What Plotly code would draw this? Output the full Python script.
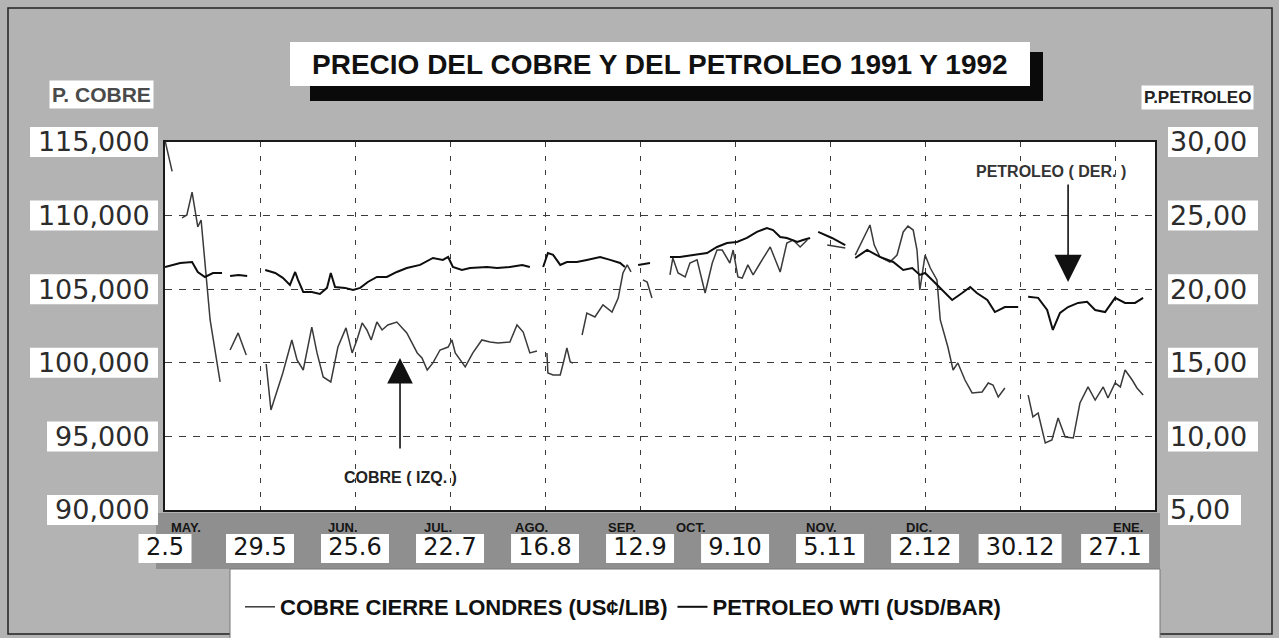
import plotly.graph_objects as go

# ---------------- DATA ----------------
# x axis: trading-day index counted from 2 May 1991 (one tick every 20 days)
dias_tick = [0, 20, 40, 60, 80, 100, 120, 140, 160, 180, 200]
fechas = ["2.5", "29.5", "25.6", "22.7", "16.8", "12.9", "9.10", "5.11", "2.12", "30.12", "27.1"]
meses = ["MAY.", "", "JUN.", "JUL.", "AGO.", "SEP.", "OCT.", "NOV.", "DIC.", "", "ENE."]

cobre_ticks = [90000, 95000, 100000, 105000, 110000, 115000]
cobre_ticktext = ["90,000", "95,000", "100,000", "105,000", "110,000", "115,000"]
petroleo_ticks = [5, 10, 15, 20, 25, 30]
petroleo_ticktext = ["5,00", "10,00", "15,00", "20,00", "25,00", "30,00"]

# Copper, London close (left axis); None = gap in the original series
cobre_dia = [
    0, 1.5, None,
    3.6, 4.6, 5.7, 6.3, 6.9, 7.6, 9.5, 11.6, None,
    13.7, 15.4, 17.1, None,
    21.3, 22.3, 24.8, 26.7, 27.8, 29.1, 30.9, 32.0, 33.3, 34.9, 36.4, 38.1, 39.4, 40.4, 41.5,
    42.5, 43.4, 44.6, 45.7, 46.9, 48.8, 50.9, 53.1, 54.1, 55.2, 56.4, 57.9, 59.6, 60.4, 61.1,
    63.2, 64.8, 66.7, 68.4, 70.1, 72.6, 74.1, 75.4, 76.8, 78.3, None,
    80.4, 80.6, 81.7, 83.2, 84.0, 84.6, 85.3, 85.9, None,
    87.8, 88.8, 90.5, 92.2, 94.1, 95.4, 96.4, 97.3, 98.1, None,
    100.6, 101.5, 102.5, None,
    106.3, 106.9, 108.0, 109.5, 110.5, 112.0, 113.7, 115.2, 116.2, 117.3, 118.9, 119.6, 120.6,
    121.5, 122.7, 123.8, 125.3, 127.4, 129.5, 130.9, 132.2, 133.7, 135.2, None,
    139.4, 143.2, None,
    145.3, 146.9, 148.4, 149.3, 150.5, 152.6, 154.1, 155.4, 156.4, 157.5, 158.3, 158.9, 160.0,
    161.1, 162.5, 163.2, 164.8, 165.9, 166.9, 168.4, 169.9, 172.0, 173.3, 174.3, 175.4, 176.8, None,
    181.7, 182.7, 183.8, 185.3, 186.7, 188.0, 189.5, 191.2, 192.6, 194.3, 195.8, 197.5, 198.5,
    200.0, 201.1, 202.1, 203.6, 204.6, 205.9,
]
cobre_valor = [
    115100, 113000, None,
    109840, 110040, 111600, 110250, 109230, 109700, 102910, 98700, None,
    100870, 102030, 100530, None,
    99920, 96800, 99310, 101550, 100190, 99510, 102430, 100670, 99040, 98700, 101070, 102370, 100670, 101550, 102710,
    102230, 101550, 102770, 102230, 102570, 102770, 102030, 100670, 100330, 99510, 99990, 100870, 101070, 101550, 100670,
    99720, 100670, 101550, 101410, 101350, 101410, 102570, 102090, 100670, 100800, None,
    100670, 99310, 99170, 99170, 100190, 101010, 100060, 99990, None,
    101890, 103380, 103110, 103930, 103450, 104400, 106100, 106650, 106170, None,
    105630, 105490, 104400, None,
    105970, 107120, 106100, 105830, 106780, 106990, 104740, 106780, 107660, 107660, 106780, 107660, 105830,
    105760, 106650, 105970, 106780, 107870, 106170, 108140, 108340, 107870, 108340, None,
    108000, 107800, None,
    107320, 108340, 109360, 108000, 107190, 106850, 107320, 108890, 109290, 109020, 107660, 104950, 107320,
    106440, 105630, 102910, 101070, 99510, 99990, 98830, 97950, 98020, 98630, 98490, 97680, 98290, None,
    97810, 96320, 96590, 94550, 94760, 96250, 94960, 94890, 97270, 98360, 97470, 98360, 97610,
    98630, 98360, 99510, 98830, 98290, 97810,
]

# WTI oil (right axis)
petroleo_dia = [
    0, 3.2, 5.7, 6.9, 8.4, 10.1, 12.0, None,
    13.7, 15.5, 17.3, None,
    21.1, 23.2, 24.8, 26.3, 27.4, 28.0, 29.1, 30.9, 32.6, 34.1, 34.9, 35.8, 37.9, 39.6, 41.1,
    42.7, 44.6, 46.7, 48.8, 50.9, 53.7, 56.4, 58.5, 59.6, 60.6, 62.5, 64.2, 66.3, 67.8, 69.9,
    72.6, 75.2, 76.8, None,
    79.6, 80.6, 81.7, 83.2, 84.6, 86.7, 88.8, 91.6, 93.7, 95.8, 96.8, None,
    99.6, 102.1, None,
    106.3, 108.4, 111.2, 114.1, 116.2, 118.3, 120.4, 122.5, 124.6, 126.7, 128.0, 129.5, 130.9,
    133.1, 134.3, 135.8, None,
    137.5, 140.4, 143.2, None,
    145.3, 147.8, 150.5, 153.3, 155.4, 157.3, 158.9, 160.0, 161.5, 163.6, 165.7, 167.8, 169.5,
    170.9, 173.1, 174.7, 176.8, 179.6, None,
    181.7, 183.8, 185.7, 186.9, 188.4, 190.1, 192.2, 194.1, 195.8, 197.9, 200.0, 202.1, 204.2, 205.9,
]
petroleo_valor = [
    21.50, 21.78, 21.85, 21.17, 20.83, 21.10, 21.10, None,
    20.90, 20.97, 20.90, None,
    21.31, 21.10, 20.77, 20.29, 21.17, 20.63, 19.81, 19.81, 19.68, 20.09, 21.10, 20.15, 20.09, 19.95, 20.09,
    20.49, 20.83, 20.83, 21.17, 21.44, 21.65, 22.12, 21.99, 22.19, 21.51, 21.31, 21.44, 21.51, 21.51, 21.44,
    21.51, 21.65, 21.51, None,
    21.51, 22.46, 22.33, 21.65, 21.85, 21.85, 21.99, 22.19, 21.99, 21.78, 21.51, None,
    21.65, 21.78, None,
    22.19, 22.19, 22.33, 22.46, 22.87, 23.14, 23.21, 23.48, 23.89, 24.16, 24.02, 23.55, 23.48,
    23.21, 23.34, 23.48, None,
    23.89, 23.48, 23.00, None,
    22.12, 22.67, 22.19, 21.85, 21.31, 21.44, 20.97, 21.10, 20.63, 19.95, 19.27, 19.74, 20.15,
    19.74, 19.27, 18.45, 18.79, 18.79, None,
    19.48, 19.41, 18.59, 17.23, 18.39, 18.79, 19.07, 19.14, 18.59, 18.45, 19.41, 19.07, 19.07, 19.41,
]

# ---------------- STYLE / LAYOUT HELPERS ----------------
W, H = 1279, 638
L, R, T, B = 165, 1155, 142, 510          # plot-area pixel box
X_MAX = 208.4
Y_MIN, Y_MAX = 90000, 115000
Y2_MIN, Y2_MAX = 5, 30


def px(X):
    return (X - L) / (R - L)


def py(Y):
    return (B - Y) / (B - T)


def fx(d):
    return d / X_MAX


def fy(v):
    return (v - Y_MIN) / (Y_MAX - Y_MIN)


def fy2(v):
    return (v - Y2_MIN) / (Y2_MAX - Y2_MIN)


fig = go.Figure()
fig.add_trace(go.Scatter(
    x=cobre_dia, y=cobre_valor, mode="lines", yaxis="y",
    name="COBRE CIERRE LONDRES (US¢/LIB)", connectgaps=False,
    line=dict(color="#3a3a3a", width=1.5),
))
fig.add_trace(go.Scatter(
    x=petroleo_dia, y=petroleo_valor, mode="lines", yaxis="y2",
    name="PETROLEO WTI (USD/BAR)", connectgaps=False,
    line=dict(color="#0e0e0e", width=2.0),
))

shapes = []
# outer frame
shapes.append(dict(type="rect", xref="paper", yref="paper", x0=px(8), x1=px(1272), y0=py(634), y1=py(8),
                   line=dict(color="#222", width=1.5), fillcolor="rgba(0,0,0,0)", layer="below"))
# title shadow and box
shapes.append(dict(type="rect", xref="paper", yref="paper", x0=px(310), x1=px(1043), y0=py(101), y1=py(52),
                   line=dict(width=0), fillcolor="#0a0a0a", layer="below"))
shapes.append(dict(type="rect", xref="paper", yref="paper", x0=px(290), x1=px(1030), y0=py(86), y1=py(42),
                   line=dict(width=0), fillcolor="white", layer="below"))
# darker band behind the date labels
shapes.append(dict(type="rect", xref="paper", yref="paper", x0=px(156), x1=px(1160), y0=py(569), y1=py(513),
                   line=dict(width=0), fillcolor="#8f8f8f", layer="below"))
# legend panel
shapes.append(dict(type="rect", xref="paper", yref="paper", x0=px(230), x1=px(1160), y0=py(645), y1=py(569),
                   line=dict(color="#777", width=1), fillcolor="white", layer="below"))
# white boxes behind left tick labels
for v, t in zip(cobre_ticks, cobre_ticktext):
    w = len(t) * 17 + 9
    shapes.append(dict(type="rect", xref="paper", yref="paper", x0=px(158 - w), x1=px(158),
                       y0=fy(v) - 15 / (B - T), y1=fy(v) + 15 / (B - T),
                       line=dict(width=0), fillcolor="white", layer="below"))
# white boxes behind right tick labels
for v, t in zip(petroleo_ticks, petroleo_ticktext):
    w = len(t) * 17 + 5
    shapes.append(dict(type="rect", xref="paper", yref="paper", x0=px(1168), x1=px(1168 + w),
                       y0=fy2(v) - 15 / (B - T), y1=fy2(v) + 15 / (B - T),
                       line=dict(width=0), fillcolor="white", layer="below"))
# white boxes behind date labels
for d, t in zip(dias_tick, fechas):
    w = len(t) * 15 + 8
    shapes.append(dict(type="rect", xref="paper", yref="paper", x0=fx(d) - (w / 2) / (R - L),
                       x1=fx(d) + (w / 2) / (R - L), y0=py(563), y1=py(534),
                       line=dict(width=0), fillcolor="white", layer="below"))

annotations = []
annotations.append(dict(xref="paper", yref="paper", x=px(660), y=py(64), xanchor="center", yanchor="middle",
                        text="PRECIO DEL COBRE Y DEL PETROLEO 1991 Y 1992", showarrow=False,
                        font=dict(family="Liberation Sans", size=28, color="#111", weight="bold")))
annotations.append(dict(xref="paper", yref="paper", x=px(154), xanchor="right", y=py(95), yanchor="middle",
                        text="P. COBRE", showarrow=False, bgcolor="white", borderpad=2,
                        font=dict(family="Liberation Sans", size=21, color="#4a4a4a", weight="bold")))
annotations.append(dict(xref="paper", yref="paper", x=px(1254), xanchor="right", y=py(98), yanchor="middle",
                        text="P.PETROLEO", showarrow=False, bgcolor="white", borderpad=2,
                        font=dict(family="Liberation Sans", size=17, color="#222", weight="bold")))
mes_shift = [21, 0, -12, -12, -14, -18, -44, -9, -6, 0, 13]
for d, m, s in zip(dias_tick, meses, mes_shift):
    if m:
        annotations.append(dict(xref="x", yref="paper", x=d, y=py(527), xanchor="center", yanchor="middle",
                                text=m, showarrow=False, xshift=s,
                                font=dict(family="Liberation Sans", size=13, color="#151515", weight="bold")))
# arrows and series labels
annotations.append(dict(xref="x", yref="y", x=(400 - L) / 4.75, y=100330, text="", showarrow=True,
                        ax=0, ay=92, arrowhead=2, arrowsize=3.2, arrowwidth=1.6, arrowcolor="#111"))
annotations.append(dict(xref="x", yref="y", x=(400 - L) / 4.75, y=92180, xanchor="center", yanchor="middle",
                        text="COBRE ( IZQ. )", showarrow=False,
                        font=dict(family="Liberation Sans", size=16, color="#222", weight="bold")))
annotations.append(dict(xref="x", yref="y2", x=(1068 - L) / 4.75, y=20.49, text="", showarrow=True,
                        ax=0, ay=-99, arrowhead=2, arrowsize=3.4, arrowwidth=1.6, arrowcolor="#111"))
annotations.append(dict(xref="x", yref="y2", x=(1051 - L) / 4.75, y=28.03, xanchor="center", yanchor="middle",
                        text="PETROLEO ( DER. )", showarrow=False,
                        font=dict(family="Liberation Sans", size=16, color="#333", weight="bold")))

fig.update_layout(
    width=W, height=H, autosize=False,
    margin=dict(l=L, r=W - R, t=T, b=H - B, pad=0, autoexpand=False),
    paper_bgcolor="#b3b3b3", plot_bgcolor="white",
    showlegend=True,
    legend=dict(orientation="h", x=px(240), xanchor="left", y=py(586), yanchor="top",
                bgcolor="rgba(0,0,0,0)", itemwidth=30,
                font=dict(family="Liberation Sans", size=22, color="#111", weight="bold")),
    xaxis=dict(range=[0, X_MAX], tickmode="array", tickvals=dias_tick, ticktext=fechas,
               showgrid=True, gridcolor="#3a3a3a", griddash="5px,9px", gridwidth=1.3,
               showline=True, mirror=True, linecolor="#1a1a1a", linewidth=2, ticks="", zeroline=False,
               tickfont=dict(family="DejaVu Sans", size=24, color="#151515"), ticklabelstandoff=14,
               fixedrange=True),
    yaxis=dict(range=[Y_MIN, Y_MAX], tickmode="array", tickvals=cobre_ticks, ticktext=cobre_ticktext,
               showgrid=True, gridcolor="#3a3a3a", griddash="7px,7px", gridwidth=1.3,
               showline=True, mirror=True, linecolor="#1a1a1a", linewidth=2, ticks="", zeroline=False,
               tickfont=dict(family="DejaVu Sans", size=27, color="#2c2c2c"), ticklabelstandoff=8,
               fixedrange=True),
    yaxis2=dict(range=[Y2_MIN, Y2_MAX], overlaying="y", side="right", tickmode="array",
                tickvals=petroleo_ticks, ticktext=petroleo_ticktext, showgrid=False, zeroline=False,
                showline=False, ticks="", tickfont=dict(family="DejaVu Sans", size=27, color="#2c2c2c"),
                ticklabelstandoff=14, fixedrange=True),
    shapes=shapes, annotations=annotations,
)

fig.write_html("out.html", config={"displayModeBar": False},
               post_script="document.body.style.margin='0';document.body.style.overflow='hidden';")
